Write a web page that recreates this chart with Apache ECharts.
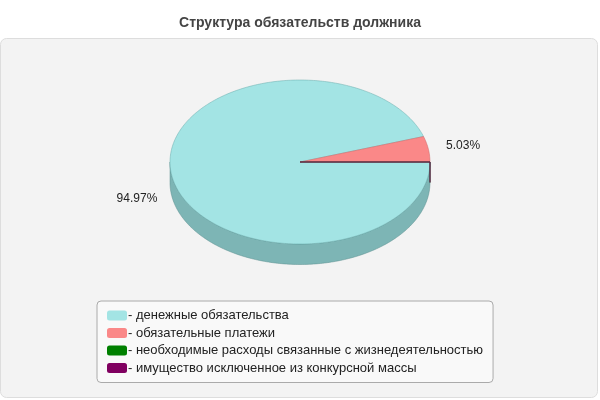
<!DOCTYPE html><html><head><meta charset="utf-8">
<script src="https://cdn.jsdelivr.net/npm/echarts@6/dist/echarts.min.js"></script>
<style>html,body{margin:0;background:#fff}#c{width:600px;height:400px}</style></head><body><div id="c"></div>
<script>
const categories=['денежные обязательства','обязательные платежи','необходимые расходы связанные с жизнедеятельностью','имущество исключенное из конкурсной массы'];
const values=[94.97,5.03,0,0];
const colors=['#a3e4e4','#fa8888','#008000','#800060'];
const sides=['#7db5b5','#c86a6a','#006000','#600048'];
const total=values.reduce((a,b)=>a+b,0);
const order=[1,0,2,3];
const ranges={};let acc=0;
order.forEach(i=>{const a=acc/total*360;acc+=values[i];ranges[i]=[a,acc/total*360];});
const D=0.25;
function pt(api,t,dy){const r=t*Math.PI/180;return api.coord([Math.cos(r),Math.sin(r)-(dy||0)]);}
function render(i){return function(params,api){
  const [a,b]=ranges[i];const ch=[];
  if(b-a<0.01){
    const c=api.coord([0,0]),e=pt(api,0),e2=pt(api,0,D);
    return {type:'group',children:[{type:'polyline',shape:{points:[c,e,e2]},style:{stroke:colors[i],lineWidth:1,fill:null}}]};
  }
  const s0=Math.max(a,180),s1=Math.min(b,360);
  if(s1>s0){const p=[];for(let t=s0;t<=s1+1e-9;t+=1)p.push(pt(api,Math.min(t,s1)));for(let t=s1;t>=s0-1e-9;t-=1)p.push(pt(api,Math.max(t,s0),D));
    ch.push({type:'polygon',shape:{points:p},style:{fill:sides[i],stroke:'#5a8f8f',lineWidth:0.5}});}
  const p=[api.coord([0,0])];for(let t=a;t<=b+1e-9;t+=1)p.push(pt(api,Math.min(t,b)));p.push(pt(api,b));
  ch.push({type:'polygon',shape:{points:p},style:{fill:colors[i],stroke:i==0?'#6aa':'#c66',lineWidth:0.5}});
  const m=(a+b)/2,r=m*Math.PI/180;const lp=api.coord([1.27*Math.cos(r),1.27*Math.sin(r)-(Math.sin(r)<0?D:0)]);
  ch.push({type:'text',style:{text:values[i].toFixed(2)+'%',x:lp[0],y:lp[1],align:'center',verticalAlign:'middle',fill:'#222',font:'12px Arial, Liberation Sans'}});
  return {type:'group',children:ch};
};}
const chart=echarts.init(document.getElementById('c'));
chart.setOption({
  animation:false,
  title:{text:'Структура обязательств должника',left:'center',top:11,textStyle:{fontSize:14,fontWeight:'bold',color:'#444',fontFamily:'Arial, Liberation Sans'}},
  graphic:[{type:'rect',z:-10,shape:{x:0.5,y:38.5,width:597,height:359,r:6},style:{fill:'#f3f3f3',stroke:'#ddd'}}],
  grid:{left:170,top:80,width:260,height:164},
  xAxis:{type:'value',min:-1,max:1,show:false},
  yAxis:{type:'value',min:-1,max:1,show:false},
  legend:{orient:'vertical',left:97,top:301,width:403,itemWidth:20,itemHeight:10,itemGap:4.5,icon:'roundRect',
    padding:[8,10,8,10],backgroundColor:'#f9f9f9',borderColor:'#aaa',borderWidth:1,borderRadius:4,
    formatter:n=>'- '+n,textStyle:{fontSize:13,color:'#222',fontFamily:'Arial, Liberation Sans',padding:[0,0,0,-4]},
    data:categories},
  series:[0,1,2,3].map(i=>({type:'custom',name:categories[i],coordinateSystem:'cartesian2d',itemStyle:{color:colors[i]},
    renderItem:render(i),data:[[0,0]],z:2+i}))
});
</script></body></html>
